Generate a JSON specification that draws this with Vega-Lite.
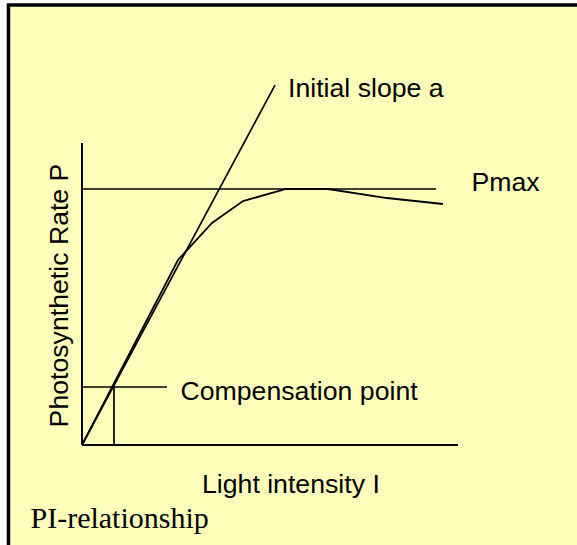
{
  "$schema": "https://vega.github.io/schema/vega-lite/v6.json",
  "width": 577,
  "height": 545,
  "padding": 0,
  "autosize": {"type": "fit", "contains": "padding"},
  "background": "#ffffff",
  "config": {"view": {"stroke": null}},
  "datasets": {
    "frame": [{"x": -19.55, "x2": 140, "y": 17.19, "y2": -10}],
    "axes": [
      {"name": "P axis", "x": 0, "y": 0, "x2": 0, "y2": 11.8},
      {"name": "I axis", "x": 0, "y": 0, "x2": 100, "y2": 0}
    ],
    "guides": [
      {"name": "Pmax", "x": 0, "y": 10, "x2": 94.15, "y2": 10},
      {"name": "Initial slope", "x": 0, "y": 0, "x2": 51.33, "y2": 14.06},
      {"name": "Compensation level", "x": 0, "y": 2.266, "x2": 22.6, "y2": 2.266},
      {"name": "Compensation light", "x": 8.51, "y": 0, "x2": 8.51, "y2": 2.266}
    ],
    "curve": [
      {"step": 1, "I": 0, "P": 0},
      {"step": 2, "I": 25.53, "P": 7.227},
      {"step": 3, "I": 34.57, "P": 8.672},
      {"step": 4, "I": 42.82, "P": 9.531},
      {"step": 5, "I": 54.26, "P": 10},
      {"step": 6, "I": 65.43, "P": 10},
      {"step": 7, "I": 81.12, "P": 9.648},
      {"step": 8, "I": 96.01, "P": 9.414}
    ],
    "labels": [
      {"label": "Initial slope a", "x": 54.79, "y": 13.594},
      {"label": "Pmax", "x": 103.59, "y": 9.922},
      {"label": "Compensation point", "x": 26.2, "y": 1.758},
      {"label": "Light intensity I", "x": 31.91, "y": -1.875}
    ],
    "ylabel": [{"label": "Photosynthetic Rate P", "x": -3.72, "y": 5.84}],
    "caption": [{"label": "PI-relationship", "x": -13.7, "y": -3.25}]
  },
  "layer": [
    {
      "data": {"name": "frame"},
      "mark": {"type": "rect", "fill": "#FFFFBB", "stroke": "#000000", "strokeWidth": 3.5, "clip": true},
      "encoding": {
        "x": {"field": "x", "type": "quantitative", "scale": {"domain": [-21.809, 131.649], "nice": false, "zero": false}, "axis": null},
        "x2": {"field": "x2"},
        "y": {"field": "y", "type": "quantitative", "scale": {"domain": [-3.906, 17.383], "nice": false, "zero": false}, "axis": null},
        "y2": {"field": "y2"}
      }
    },
    {
      "data": {"name": "axes"},
      "mark": {"type": "rule", "color": "#000000", "strokeWidth": 2},
      "encoding": {
        "x": {"field": "x", "type": "quantitative"},
        "x2": {"field": "x2"},
        "y": {"field": "y", "type": "quantitative"},
        "y2": {"field": "y2"}
      }
    },
    {
      "data": {"name": "guides"},
      "mark": {"type": "rule", "color": "#000000", "strokeWidth": 1.7},
      "encoding": {
        "x": {"field": "x", "type": "quantitative"},
        "x2": {"field": "x2"},
        "y": {"field": "y", "type": "quantitative"},
        "y2": {"field": "y2"}
      }
    },
    {
      "data": {"name": "curve"},
      "mark": {"type": "line", "color": "#000000", "strokeWidth": 1.8},
      "encoding": {
        "x": {"field": "I", "type": "quantitative"},
        "y": {"field": "P", "type": "quantitative"},
        "order": {"field": "step", "type": "quantitative"}
      }
    },
    {
      "data": {"name": "labels"},
      "mark": {"type": "text", "align": "left", "baseline": "alphabetic", "font": "Liberation Sans", "fontSize": 26.67, "color": "#000000"},
      "encoding": {
        "x": {"field": "x", "type": "quantitative"},
        "y": {"field": "y", "type": "quantitative"},
        "text": {"field": "label"}
      }
    },
    {
      "data": {"name": "ylabel"},
      "mark": {"type": "text", "align": "center", "baseline": "alphabetic", "angle": 270, "font": "Liberation Sans", "fontSize": 26.67, "color": "#000000"},
      "encoding": {
        "x": {"field": "x", "type": "quantitative"},
        "y": {"field": "y", "type": "quantitative"},
        "text": {"field": "label"}
      }
    },
    {
      "data": {"name": "caption"},
      "mark": {"type": "text", "align": "left", "baseline": "alphabetic", "font": "Liberation Serif", "fontSize": 30, "color": "#000000"},
      "encoding": {
        "x": {"field": "x", "type": "quantitative"},
        "y": {"field": "y", "type": "quantitative"},
        "text": {"field": "label"}
      }
    }
  ]
}
